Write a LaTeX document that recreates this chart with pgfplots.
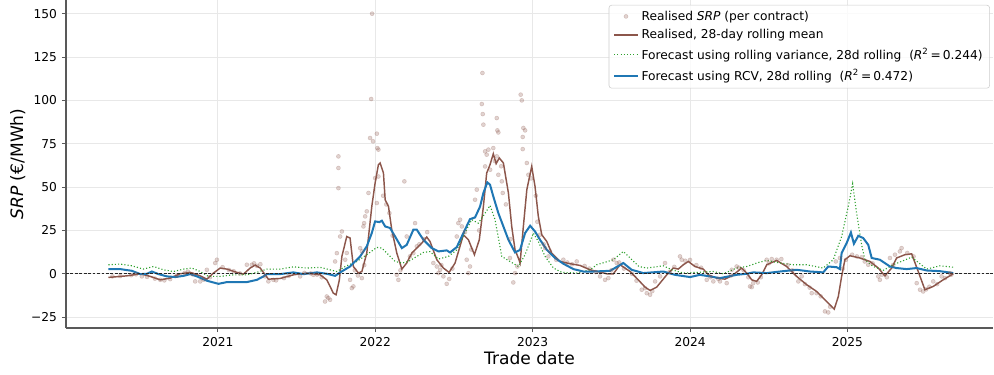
\documentclass[border=0pt]{standalone}
\usepackage{fontspec}
\setmainfont{DejaVu Sans}
\usepackage{pgfplots}
\usepackage{pgfplotstable}
\pgfplotsset{compat=1.18}
\definecolor{tabbrown}{HTML}{8C564B}
\definecolor{tabblue}{HTML}{1F77B4}
\definecolor{tabgreen}{HTML}{2CA02C}

\pgfplotstableread{
x y
2020.305 -2.1
2020.422 -1.2
2020.507 0
2020.570 -1.5
2020.634 -3.5
2020.697 -2.5
2020.760 0
2020.824 0.8
2020.888 -1.2
2020.930 -3.1
2020.972 0.4
2021.015 3.3
2021.057 2.7
2021.121 0.8
2021.163 -0.2
2021.205 3.3
2021.237 5.0
2021.269 3.3
2021.321 -3.1
2021.396 -2.7
2021.480 -0.6
2021.565 0.4
2021.650 -0.6
2021.692 -3.5
2021.734 -11.2
2021.751 -12.1
2021.772 -3.5
2021.788 10.0
2021.819 21.5
2021.840 20.6
2021.861 4.2
2021.893 0.4
2021.915 1.3
2021.946 11.9
2021.978 38.8
2021.999 52.3
2022.020 62.9
2022.031 63.9
2022.052 58.1
2022.063 42.7
2022.084 38.8
2022.105 25.4
2022.137 11.9
2022.169 2.7
2022.200 6.2
2022.232 11.9
2022.264 14.8
2022.296 17.7
2022.327 21.2
2022.348 18.6
2022.391 8.1
2022.433 3.3
2022.469 0.8
2022.507 6.2
2022.560 22.5
2022.592 19.6
2022.630 11.0
2022.661 19.6
2022.687 38.8
2022.708 58.1
2022.729 62.9
2022.750 69.2
2022.768 63.5
2022.788 66.8
2022.814 63.9
2022.846 46.6
2022.867 27.3
2022.888 13.8
2022.909 9.1
2022.920 6.2
2022.941 27.3
2022.963 48.5
2022.994 61.9
2023.015 50.4
2023.036 33.1
2023.058 22.5
2023.090 18.6
2023.121 11.9
2023.174 7.1
2023.238 5.8
2023.301 4.8
2023.365 2.3
2023.471 0
2023.513 0
2023.555 5.2
2023.619 1.3
2023.671 -3.5
2023.714 -7.7
2023.746 -9.6
2023.788 -7.7
2023.852 -0.6
2023.894 3.3
2023.925 2.7
2023.957 5.2
2023.989 7.1
2024.031 4.2
2024.084 2.7
2024.116 -0.6
2024.169 -2.5
2024.222 -3.1
2024.275 -0.6
2024.328 3.3
2024.360 0.4
2024.392 -3.5
2024.423 -4.4
2024.455 -0.6
2024.487 5.2
2024.550 7.7
2024.614 4.2
2024.677 -1.5
2024.741 -6.3
2024.804 -10.2
2024.868 -16.0
2024.916 -20.4
2024.942 -13.1
2024.963 -1.5
2024.984 8.1
2025.016 10.4
2025.079 9.1
2025.143 7.1
2025.196 3.3
2025.238 -1.2
2025.281 3.3
2025.312 9.1
2025.365 11.0
2025.408 11.5
2025.461 -1.5
2025.492 -9.2
2025.545 -7.3
2025.608 -3.5
2025.672 0
}\brownmean

\pgfplotstableread{
x y
2020.305 2.7
2020.379 2.7
2020.454 1.7
2020.507 -0.2
2020.549 0
2020.581 1.3
2020.623 -0.2
2020.676 -1.5
2020.729 -1.9
2020.782 -1.2
2020.824 -0.2
2020.867 -1.5
2020.930 -4.0
2021.004 -5.8
2021.057 -4.8
2021.121 -4.8
2021.184 -4.8
2021.248 -3.5
2021.290 -1.5
2021.311 -0.2
2021.396 -0.2
2021.480 0.8
2021.544 -0.2
2021.629 0.8
2021.692 0
2021.745 -1.2
2021.777 0.8
2021.840 4.2
2021.904 10.0
2021.946 15.8
2021.978 23.5
2021.999 30.2
2022.026 29.8
2022.042 30.6
2022.063 27.3
2022.094 26.4
2022.126 21.5
2022.169 14.8
2022.200 16.7
2022.242 25.4
2022.264 25.4
2022.306 19.6
2022.359 14.8
2022.401 12.9
2022.454 13.5
2022.475 12.3
2022.518 15.4
2022.560 23.5
2022.602 31.5
2022.634 32.5
2022.666 38.8
2022.687 46.6
2022.712 52.7
2022.729 51.4
2022.750 44.6
2022.782 35.0
2022.814 27.3
2022.846 19.6
2022.888 12.3
2022.920 13.8
2022.952 23.5
2022.984 27.7
2023.015 24.4
2023.047 19.6
2023.090 13.8
2023.142 9.1
2023.195 5.8
2023.259 2.7
2023.322 1.3
2023.386 1.3
2023.492 1.7
2023.576 6.2
2023.629 2.3
2023.703 0.4
2023.830 1.3
2023.904 -0.6
2024.000 -1.9
2024.063 -0.6
2024.190 -2.5
2024.296 -0.6
2024.360 0
2024.401 0.8
2024.487 0.4
2024.571 1.3
2024.677 2.3
2024.763 1.3
2024.846 0.8
2024.878 4.2
2024.931 3.8
2024.952 2.7
2024.963 11.9
2024.995 17.7
2025.022 23.8
2025.041 17.3
2025.069 21.9
2025.100 20.6
2025.132 16.7
2025.154 9.1
2025.206 8.1
2025.270 4.2
2025.312 3.3
2025.376 2.7
2025.440 3.3
2025.503 1.9
2025.588 1.5
2025.672 0.4
}\bluercv

\pgfplotstableread{
x y
2020.305 5.2
2020.379 5.6
2020.454 4.6
2020.527 2.7
2020.591 4.2
2020.654 2.3
2020.718 1.3
2020.782 2.7
2020.835 3.3
2020.888 1.3
2020.940 -1.5
2021.015 -1.5
2021.099 -0.6
2021.184 -0.6
2021.248 0.8
2021.311 2.7
2021.396 2.7
2021.480 4.0
2021.565 3.3
2021.650 3.7
2021.713 2.3
2021.756 1.3
2021.809 4.2
2021.883 7.1
2021.946 11.0
2022.010 15.2
2022.042 14.8
2022.084 11.0
2022.126 7.1
2022.169 6.2
2022.211 7.1
2022.264 10.0
2022.306 12.3
2022.348 12.8
2022.401 8.5
2022.465 10.0
2022.518 13.8
2022.560 21.9
2022.613 31.2
2022.655 29.2
2022.698 35.0
2022.729 39.4
2022.761 31.2
2022.804 10.0
2022.856 7.1
2022.909 4.2
2022.952 11.0
2023.004 23.5
2023.036 18.6
2023.079 10.0
2023.132 3.3
2023.185 0.8
2023.280 0.4
2023.365 2.3
2023.407 5.2
2023.513 8.1
2023.576 12.9
2023.675 4.2
2023.725 3.3
2023.830 4.6
2023.884 2.3
2023.957 0.4
2024.042 0.8
2024.148 1.3
2024.211 0
2024.296 3.3
2024.360 4.2
2024.434 6.5
2024.487 7.7
2024.571 6.2
2024.656 5.2
2024.741 5.2
2024.846 3.3
2024.910 8.1
2024.963 21.5
2025.005 38.8
2025.033 51.9
2025.058 35.0
2025.090 16.7
2025.111 8.1
2025.164 4.2
2025.228 2.0
2025.291 5.2
2025.408 9.6
2025.503 2.7
2025.588 4.6
2025.672 3.8
}\greenvar

\pgfplotstableread{
x y
2021.980 150
2021.974 100.8
2022.010 80.8
2021.967 78.3
2021.986 76.4
2022.020 71.6
2022.014 72.5
2021.766 67.7
2021.766 61.0
2021.766 49.4
2021.788 24.4
2021.777 21.5
2021.756 11.9
2021.745 7.1
2021.692 -13.1
2021.713 -15.0
2021.681 -16.0
2021.702 -14.0
2021.840 -3.5
2021.851 -8.3
2021.861 -7.3
2021.915 -2.5
2021.929 29.2
2021.946 36.0
2021.957 46.6
2021.999 55.2
2022.010 40.8
2022.020 56.1
2021.936 33.1
2021.925 27.3
2021.809 8.1
2021.819 12.0
2021.904 14.8
2021.915 12.9
2021.870 2.0
2021.890 -1.0
2021.930 5.0
2022.185 53.3
2022.253 29.2
2022.200 21.5
2022.137 -0.6
2022.147 -3.5
2022.369 6.2
2022.391 4.2
2022.242 11.9
2022.264 15.8
2022.681 115.8
2022.677 97.9
2022.683 92.1
2022.687 86.0
2022.772 89.8
2022.776 82.7
2022.782 81.5
2022.924 103.3
2022.931 100.0
2022.941 84.1
2022.952 82.7
2022.937 78.9
2022.937 71.9
2022.963 63.9
2022.973 57.1
2022.698 70.6
2022.719 71.6
2022.750 72.5
2022.708 68.7
2022.772 67.7
2022.698 61.9
2022.804 53.3
2022.810 46.6
2022.782 57.1
2022.645 48.5
2022.634 42.7
2022.539 31.2
2022.550 27.3
2022.528 29.2
2022.518 21.5
2022.412 2.3
2022.433 -1.5
2022.454 -5.8
2022.401 0.4
2022.581 8.1
2022.602 4.2
2022.592 0.4
2022.888 0.4
2022.877 -5.0
2022.903 4.2
2022.856 9.1
2023.079 14.8
2023.100 10.0
2023.047 22.5
2023.195 8.1
2023.280 7.1
2023.513 8.1
2023.534 6.2
2023.428 -1.5
2023.460 -3.5
2023.481 -2.5
2023.693 -9.2
2023.725 -11.2
2023.746 -12.1
2023.714 -8.3
2023.778 -4.4
2023.810 -1.5
2023.841 6.2
2023.936 10.0
2023.947 8.1
2024.106 -3.5
2024.148 -4.4
2024.190 -4.4
2024.233 -5.4
2024.265 2.3
2024.296 4.2
2024.392 -7.7
2024.381 -7.3
2024.401 -5.4
2024.487 8.1
2024.519 8.5
2024.550 8.1
2024.688 -4.4
2024.709 -1.5
2024.773 -11.2
2024.804 -11.2
2024.857 -21.7
2024.878 -22.3
2024.926 7.1
2024.952 9.1
2025.110 7.1
2025.132 5.2
2025.196 -1.5
2025.206 -3.5
2025.270 9.1
2025.302 11.0
2025.344 14.8
2025.333 12.9
2025.440 -5.4
2025.461 -9.2
2025.481 -10.2
2025.545 -4.4
2025.598 -1.5
2025.651 0.4
2020.994 8.1
2020.983 6.2
2020.930 2.3
2020.888 -4.4
2020.856 -4.4
2021.184 5.2
2021.216 5.2
2021.248 4.6
2021.321 -4.4
2021.353 -3.5
2021.523 -1.5
2021.607 -0.6
2020.517 -1.5
2020.634 -3.5
2020.697 -3.1
2020.330 -1.5
2020.380 -1.3
2020.450 -0.8
2020.480 -0.3
2020.550 -1.8
2020.600 -2.8
2020.660 -3.8
2020.740 -1.0
2020.790 0.5
2020.810 1.2
2020.840 -0.3
2020.910 -3.4
2020.950 -2.0
2021.030 3.8
2021.070 2.2
2021.100 1.5
2021.140 0.2
2021.230 6.0
2021.270 5.5
2021.300 -1.5
2021.370 -3.8
2021.420 -2.5
2021.450 -1.2
2021.550 0.5
2021.590 0.2
2021.630 -0.5
2021.660 -2.0
2022.050 45
2022.070 40
2022.090 35
2022.110 22
2022.160 2
2022.220 10
2022.280 17
2022.310 20
2022.330 24
2022.420 5
2022.470 -3
2022.490 3
2022.570 24
2022.610 14
2022.660 25
2022.730 60
2022.760 65
2022.800 62
2022.830 40
2022.860 20
2022.990 55
2023.020 45
2023.030 30
2023.070 17
2023.110 13
2023.150 8
2023.220 6.5
2023.250 5.5
2023.330 4.5
2023.360 3
2023.400 1
2023.500 2
2023.550 6.5
2023.580 3
2023.630 0
2023.660 -4
2023.760 -10
2023.870 1
2023.900 4
2023.970 7.5
2024.000 8
2024.040 5
2024.070 3.5
2024.130 -2
2024.180 -3
2024.260 -1
2024.310 3.5
2024.340 2
2024.370 -2
2024.430 -5
2024.450 -2
2024.500 6
2024.580 8.5
2024.620 5
2024.650 2
2024.730 -6
2024.760 -8
2024.830 -13
2024.890 -19
2024.970 3
2024.990 8
2025.030 11
2025.060 10
2025.090 9.5
2025.160 6
2025.220 -0.5
2025.250 -2
2025.290 5
2025.380 12
2025.420 10
2025.500 -9
2025.520 -7.5
2025.570 -6
2025.620 -2.5
2025.660 -0.5
}\realised

\begin{document}
\begin{tikzpicture}
\begin{axis}[
  at={(0,0)}, anchor=south west,
  scale only axis, width=667.4pt, height=236.2pt,
  xmin=2020.035, xmax=2025.924, ymin=-31.3, ymax=157.9,
  axis x line*=bottom, axis y line*=left,
  axis line style={draw=black!65, line width=0.9pt, -},
  xtick={2021,2022,2023,2024,2025},
  xticklabels={2021,2022,2023,2024,2025},
  ytick={-25,0,25,50,75,100,125,150},
  yticklabels={−25,0,25,50,75,100,125,150},
  tick align=outside, major tick length=3pt,
  tick style={draw=black!65, line width=0.6pt},
  ticklabel style={font=\fontsize{8.8}{10}\selectfont},
  grid=major, major grid style={draw=black!9, line width=0.6pt},
  xlabel={Trade date}, ylabel={\textit{SRP} (€/MWh)},
  label style={font=\fontsize{12.3}{14}\selectfont},
  xlabel style={at={(axis description cs:0.5,-0.0915)}, anchor=center},
  ylabel style={at={(axis description cs:-0.052,0.5)}, anchor=center},
  legend cell align=left,
  legend style={at={(rel axis cs:0.9968,0.985)}, anchor=north east,
    draw=black!20, rounded corners=2pt, fill=white, fill opacity=0.8, text opacity=1,
    font=\fontsize{8.8}{10.5}\selectfont, row sep=1.2pt, inner xsep=3pt, inner ysep=2pt},
]
\addplot[only marks, color=tabbrown, mark=*, mark size=1.45pt, opacity=0.26,
  mark options={draw=tabbrown, fill=tabbrown, opacity=0.26}] table[x=x,y=y] {\realised};
\addlegendentry{Realised \textit{SRP} (per contract)}
\addplot[tabbrown, line width=1.05pt] table[x=x,y=y] {\brownmean};
\addlegendentry{Realised, 28-day rolling mean}
\addplot[tabgreen, line width=0.8pt, dash pattern=on 0.8pt off 1.5pt] table[x=x,y=y] {\greenvar};
\addlegendentry{Forecast using rolling variance, 28d rolling\ \ (\textit{R}\textsuperscript{2}\,=\,0.244)}
\addplot[tabblue, line width=1.45pt] table[x=x,y=y] {\bluercv};
\addlegendentry{Forecast using RCV, 28d rolling\ \ (\textit{R}\textsuperscript{2}\,=\,0.472)}
\draw[black!85, line width=0.6pt, dash pattern=on 2pt off 1.2pt] (axis cs:2020.035,0) -- (axis cs:2025.924,0);
\end{axis}
\pgfresetboundingbox
\path[use as bounding box] (-47.5pt,-33.8pt) rectangle (668.2pt,236.2pt);
\end{tikzpicture}
\end{document}
